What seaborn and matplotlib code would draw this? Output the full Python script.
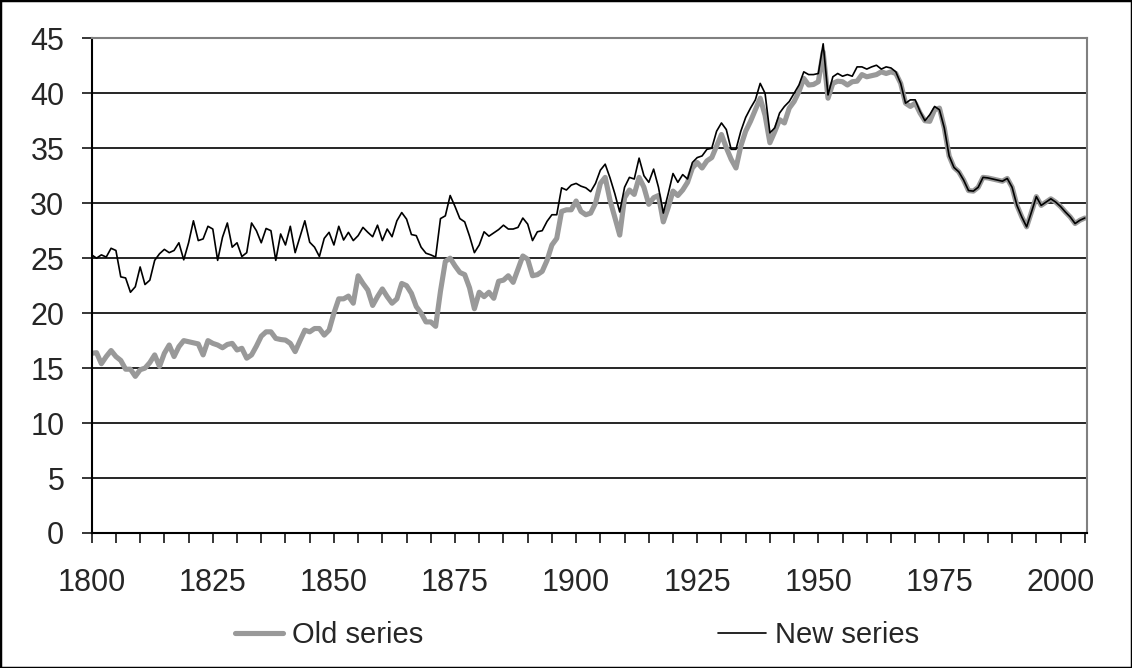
import pandas as pd
import seaborn as sns
import matplotlib.pyplot as plt
from matplotlib.patches import Rectangle

# --- data: one value per year, 1800-2005 ---
years = list(range(1800, 2006))

old_series = [
    16.35, 16.4, 15.4, 16.05, 16.6, 16.05, 15.7, 14.9, 14.9, 14.25,    # 1800s
    14.85, 15.0, 15.5, 16.2, 15.15, 16.35, 17.1, 16.05, 16.95, 17.5,   # 1810s
    17.4, 17.3, 17.2, 16.2, 17.5, 17.25, 17.1, 16.85, 17.15, 17.25,    # 1820s
    16.65, 16.8, 15.9, 16.2, 17.0, 17.9, 18.3, 18.3, 17.7, 17.6,       # 1830s
    17.55, 17.25, 16.5, 17.5, 18.45, 18.3, 18.6, 18.6, 18.0, 18.45,    # 1840s
    20.0, 21.3, 21.3, 21.55, 20.9, 23.4, 22.7, 22.1, 20.7, 21.5,       # 1850s
    22.2, 21.5, 20.9, 21.3, 22.7, 22.5, 21.8, 20.6, 20.0, 19.2,        # 1860s
    19.2, 18.8, 22.0, 24.7, 25.0, 24.3, 23.7, 23.5, 22.3, 20.4,        # 1870s
    21.9, 21.5, 21.9, 21.35, 22.9, 23.0, 23.4, 22.8, 24.0, 25.2,       # 1880s
    24.9, 23.4, 23.5, 23.8, 24.8, 26.2, 26.8, 29.25, 29.4, 29.4,       # 1890s
    30.2, 29.25, 28.95, 29.1, 30.0, 31.8, 32.35, 30.25, 28.7, 27.1,    # 1900s
    30.5, 31.2, 30.8, 32.35, 31.45, 29.9, 30.5, 30.7, 28.3, 29.6,      # 1910s
    31.1, 30.7, 31.2, 31.9, 33.2, 33.7, 33.2, 33.85, 34.15, 35.2,      # 1920s
    36.25, 35.05, 34.0, 33.2, 35.2, 36.55, 37.45, 38.5, 39.55, 38.0,   # 1930s
    35.5, 36.5, 37.6, 37.3, 38.65, 39.25, 40.15, 41.35, 40.75, 40.8,   # 1940s
    41.05, 43.75, 39.55, 40.9, 41.1, 41.05, 40.75, 41.05, 41.1, 41.7,  # 1950s
    41.5, 41.6, 41.7, 41.95, 41.8, 41.95, 41.8, 40.9, 39.1, 38.8,      # 1960s
    39.1, 38.2, 37.5, 37.45, 38.5, 38.65, 36.85, 34.3, 33.25, 32.85,   # 1970s
    32.1, 31.15, 31.1, 31.45, 32.35, 32.3, 32.2, 32.1, 32.0, 32.25,    # 1980s
    31.45, 29.8, 28.75, 27.85, 29.2, 30.6, 29.8, 30.1, 30.4, 30.1,     # 1990s
    29.7, 29.2, 28.75, 28.15, 28.45, 28.65,                            # 2000s
]

new_series = [
    25.3, 25.0, 25.3, 25.1, 25.9, 25.7, 23.3, 23.2, 21.9, 22.4,        # 1800s
    24.2, 22.6, 23.0, 24.8, 25.4, 25.8, 25.5, 25.7, 26.4, 24.85,       # 1810s
    26.4, 28.4, 26.6, 26.75, 27.9, 27.65, 24.8, 26.9, 28.2, 26.0,      # 1820s
    26.4, 25.15, 25.5, 28.2, 27.5, 26.4, 27.7, 27.5, 24.8, 27.2,       # 1830s
    26.2, 27.9, 25.5, 26.95, 28.4, 26.45, 26.0, 25.15, 26.8, 27.35,    # 1840s
    26.2, 27.9, 26.65, 27.35, 26.6, 27.05, 27.8, 27.35, 26.95, 28.0,   # 1850s
    26.6, 27.65, 26.95, 28.4, 29.15, 28.55, 27.15, 27.05, 26.0, 25.45, # 1860s
    25.3, 25.1, 28.6, 28.85, 30.7, 29.7, 28.6, 28.3, 27.0, 25.5,       # 1870s
    26.2, 27.4, 27.0, 27.3, 27.6, 28.0, 27.65, 27.65, 27.8, 28.65,     # 1880s
    28.1, 26.6, 27.4, 27.5, 28.35, 28.95, 28.95, 31.4, 31.2, 31.65,    # 1890s
    31.8, 31.55, 31.4, 31.05, 31.8, 33.0, 33.55, 32.3, 30.85, 29.2,    # 1900s
    31.45, 32.35, 32.2, 34.1, 32.5, 31.9, 33.1, 31.45, 29.1, 30.85,    # 1910s
    32.7, 31.9, 32.6, 32.2, 33.7, 34.15, 34.3, 34.9, 35.0, 36.55,      # 1920s
    37.3, 36.7, 34.9, 34.9, 36.55, 37.8, 38.65, 39.4, 40.9, 40.0,      # 1930s
    36.4, 36.85, 38.2, 38.8, 39.25, 40.0, 40.75, 41.95, 41.7, 41.7,    # 1940s
    41.8, 44.5, 39.85, 41.5, 41.8, 41.55, 41.7, 41.55, 42.4, 42.4,     # 1950s
    42.2, 42.4, 42.55, 42.2, 42.4, 42.3, 41.95, 40.9, 39.1, 39.4,      # 1960s
    39.4, 38.35, 37.5, 38.05, 38.8, 38.5, 36.85, 34.3, 33.25, 32.85,   # 1970s
    32.1, 31.15, 31.1, 31.45, 32.35, 32.3, 32.2, 32.1, 32.0, 32.25,    # 1980s
    31.45, 29.8, 28.75, 27.85, 29.2, 30.6, 29.8, 30.1, 30.4, 30.1,     # 1990s
    29.7, 29.2, 28.75, 28.15, 28.45, 28.65,                            # 2000s
]

x_ticks = list(range(1800, 2006, 5))
x_labels = [str(y) if y % 25 == 0 else '' for y in x_ticks]
y_ticks = list(range(0, 50, 5))

df = pd.DataFrame({'year': years, 'old': old_series, 'new': new_series})

# --- style ---
sns.set_style('white')
plt.rcParams['font.family'] = ['Liberation Sans', 'DejaVu Sans']

fig = plt.figure(figsize=(11.32, 6.68), dpi=100)
ax = fig.add_axes([91.7 / 1132, 1 - 533 / 668, 995 / 1132, (533 - 38.3) / 668])

sns.lineplot(data=df, x='year', y='old', ax=ax, color='#999999', linewidth=3.7,
             solid_joinstyle='round', label='Old series', legend=False)
sns.lineplot(data=df, x='year', y='new', ax=ax, color='black', linewidth=1.2,
             solid_joinstyle='round', label='New series', legend=False)

ax.set_xlim(1800, 2005.4)
ax.set_ylim(0, 45)
ax.set_xlabel('')
ax.set_ylabel('')

ax.set_yticks(y_ticks)
ax.yaxis.grid(True, color='black', linewidth=1.2)
ax.set_axisbelow(True)

ax.set_xticks(x_ticks)
ax.set_xticklabels(x_labels)

ax.tick_params(axis='x', length=7.2, width=1.1, direction='out', color='black',
               bottom=True, pad=18, labelsize=22)
ax.tick_params(axis='y', length=7.2, width=1.1, direction='out', color='black',
               left=True, pad=12.5, labelsize=22)

for side in ['left', 'bottom']:
    ax.spines[side].set_color('black')
    ax.spines[side].set_linewidth(1.5)
for side in ['top', 'right']:
    ax.spines[side].set_color('#808080')
    ax.spines[side].set_linewidth(1.5)

handles, labels = ax.get_legend_handles_labels()
fig.legend(handles, labels, loc='center', bbox_to_anchor=(0.5097, 0.0494), ncol=2,
           frameon=False, fontsize=21, handlelength=1.65, handletextpad=0.3,
           columnspacing=10.1)

# chart-area border
fig.patches.append(Rectangle((0, 0), 1, 1, transform=fig.transFigure, fill=False,
                             edgecolor='black', linewidth=2.5))

fig.savefig('out.png', dpi=100)
